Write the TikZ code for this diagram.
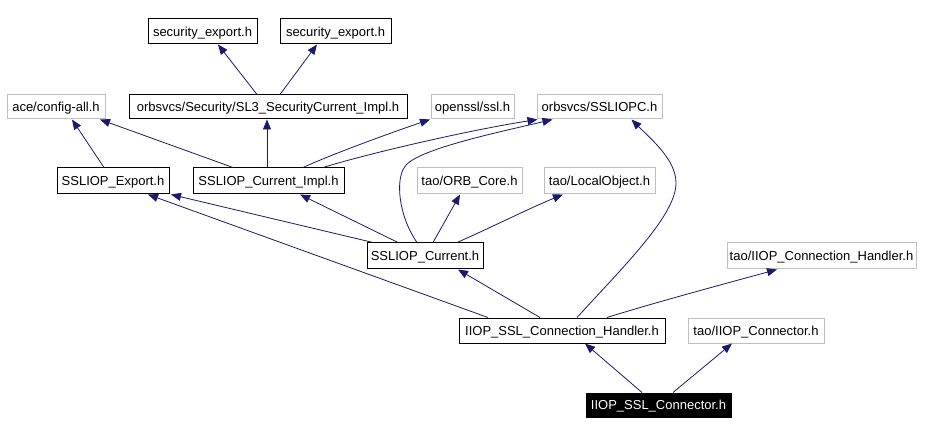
\documentclass[tikz,border=0pt]{standalone}
\usepackage{fontspec}
\setmainfont{Liberation Sans}
\usetikzlibrary{arrows.meta,calc}
\definecolor{edgeblue}{HTML}{191970}
\definecolor{boxgray}{HTML}{BFBFBF}
\begin{document}
\begin{tikzpicture}[x=1pt,y=-1pt,
  base/.style={rectangle,inner sep=0pt,line width=1pt,font=\fontsize{13}{15}\selectfont,text depth=0pt},
  solidbox/.style={base,draw=black,fill=white},
  graybox/.style={base,draw=boxgray,fill=white},
  curbox/.style={base,draw=black,fill=black,text=white},
  dep/.style={draw=edgeblue,line width=0.8pt,-{Triangle[length=10pt,width=8pt]}}
]
\useasboundingbox[fill=white] (0,0) rectangle (936,435);
\node[solidbox,minimum width=109pt,minimum height=25pt] (se1) at (202.5,31.5) {security\_export.h};
\node[solidbox,minimum width=111pt,minimum height=25pt] (se2) at (335.5,31.5) {security\_export.h};
\node[graybox,minimum width=98pt,minimum height=24pt] (ace) at (56,107) {ace/config-all.h};
\node[solidbox,minimum width=278pt,minimum height=24pt] (sl3) at (268,107) {orbsvcs/Security/SL3\_SecurityCurrent\_Impl.h};
\node[graybox,minimum width=83pt,minimum height=24pt] (ssl) at (472.5,107) {openssl/ssl.h};
\node[graybox,minimum width=125pt,minimum height=24pt] (sslpc) at (599.5,107) {orbsvcs/SSLIOPC.h};
\node[solidbox,minimum width=112pt,minimum height=26pt] (exp) at (113,181) {SSLIOP\_Export.h};
\node[solidbox,minimum width=151pt,minimum height=26pt] (impl) at (268.5,181) {SSLIOP\_Current\_Impl.h};
\node[graybox,minimum width=105pt,minimum height=26pt] (orb) at (469.5,181) {tao/ORB\_Core.h};
\node[graybox,minimum width=111pt,minimum height=26pt] (local) at (599.5,181) {tao/LocalObject.h};
\node[solidbox,minimum width=116pt,minimum height=26pt] (cur) at (425,256) {SSLIOP\_Current.h};
\node[graybox,minimum width=189pt,minimum height=26pt] (tcon) at (821.5,256) {tao/IIOP\_Connection\_Handler.h};
\node[solidbox,minimum width=206pt,minimum height=25pt] (hand) at (562,330.5) {IIOP\_SSL\_Connection\_Handler.h};
\node[graybox,minimum width=136pt,minimum height=25pt] (tcr) at (756,330.5) {tao/IIOP\_Connector.h};
\node[curbox,minimum width=145pt,minimum height=24pt] (conn) at (658.5,405) {IIOP\_SSL\_Connector.h};

\draw[dep] ([xshift=-11pt]sl3.north) -- ([xshift=15.5pt]se1.south);
\draw[dep] ([xshift=12pt]sl3.north) -- ([xshift=-18.5pt]se2.south);
\draw[dep] ([xshift=-9pt]exp.north) -- ([xshift=16pt]ace.south);
\draw[dep] ([xshift=-35.5pt]impl.north) -- ([xshift=44pt]ace.south);
\draw[dep] ([xshift=-1.5pt]impl.north) -- ([xshift=-1pt]sl3.south);
\draw[dep] ([xshift=34.5pt]impl.north) .. controls (330,155) and (390,133) .. ([xshift=-42.5pt]ssl.south);
\draw[dep] ([xshift=54.5pt]impl.north) .. controls (370,153) and (470,130) .. ([xshift=-62pt]sslpc.south);
\coordinate (curtop) at (404,168);
\draw[dep] ([xshift=-8pt]cur.north) .. controls (398,215) and (396,180) .. (curtop) .. controls (412,150) and (500,132) .. ([xshift=-47pt]sslpc.south);
\draw[dep] ([xshift=8pt]cur.north) -- ([xshift=-9.5pt]orb.south);
\draw[dep] ([xshift=32pt]cur.north) .. controls (490,228) and (530,208) .. ([xshift=-36.5pt]local.south);
\draw[dep] ([xshift=-52pt]cur.north) -- ([xshift=58pt]exp.south);
\draw[dep] ([xshift=-27pt]cur.north) -- ([xshift=31.5pt]impl.south);
\draw[dep] ([xshift=-74pt]hand.north) -- ([xshift=35pt]exp.south);
\draw[dep] ([xshift=-22pt]hand.north) -- ([xshift=33pt]cur.south);
\coordinate (handside) at (676,183);
\draw[dep] ([xshift=15pt]hand.north) .. controls (625,265) and (676,215) .. (handside) .. controls (676,160) and (652,140) .. ([xshift=32pt]sslpc.south);
\draw[dep] ([xshift=45pt]hand.north) .. controls (650,304) and (720,285) .. ([xshift=-44.5pt]tcon.south);
\draw[dep] ([xshift=-16.5pt]conn.north) -- ([xshift=23pt]hand.south);
\draw[dep] ([xshift=14.5pt]conn.north) -- ([xshift=-24pt]tcr.south);
\end{tikzpicture}
\end{document}
